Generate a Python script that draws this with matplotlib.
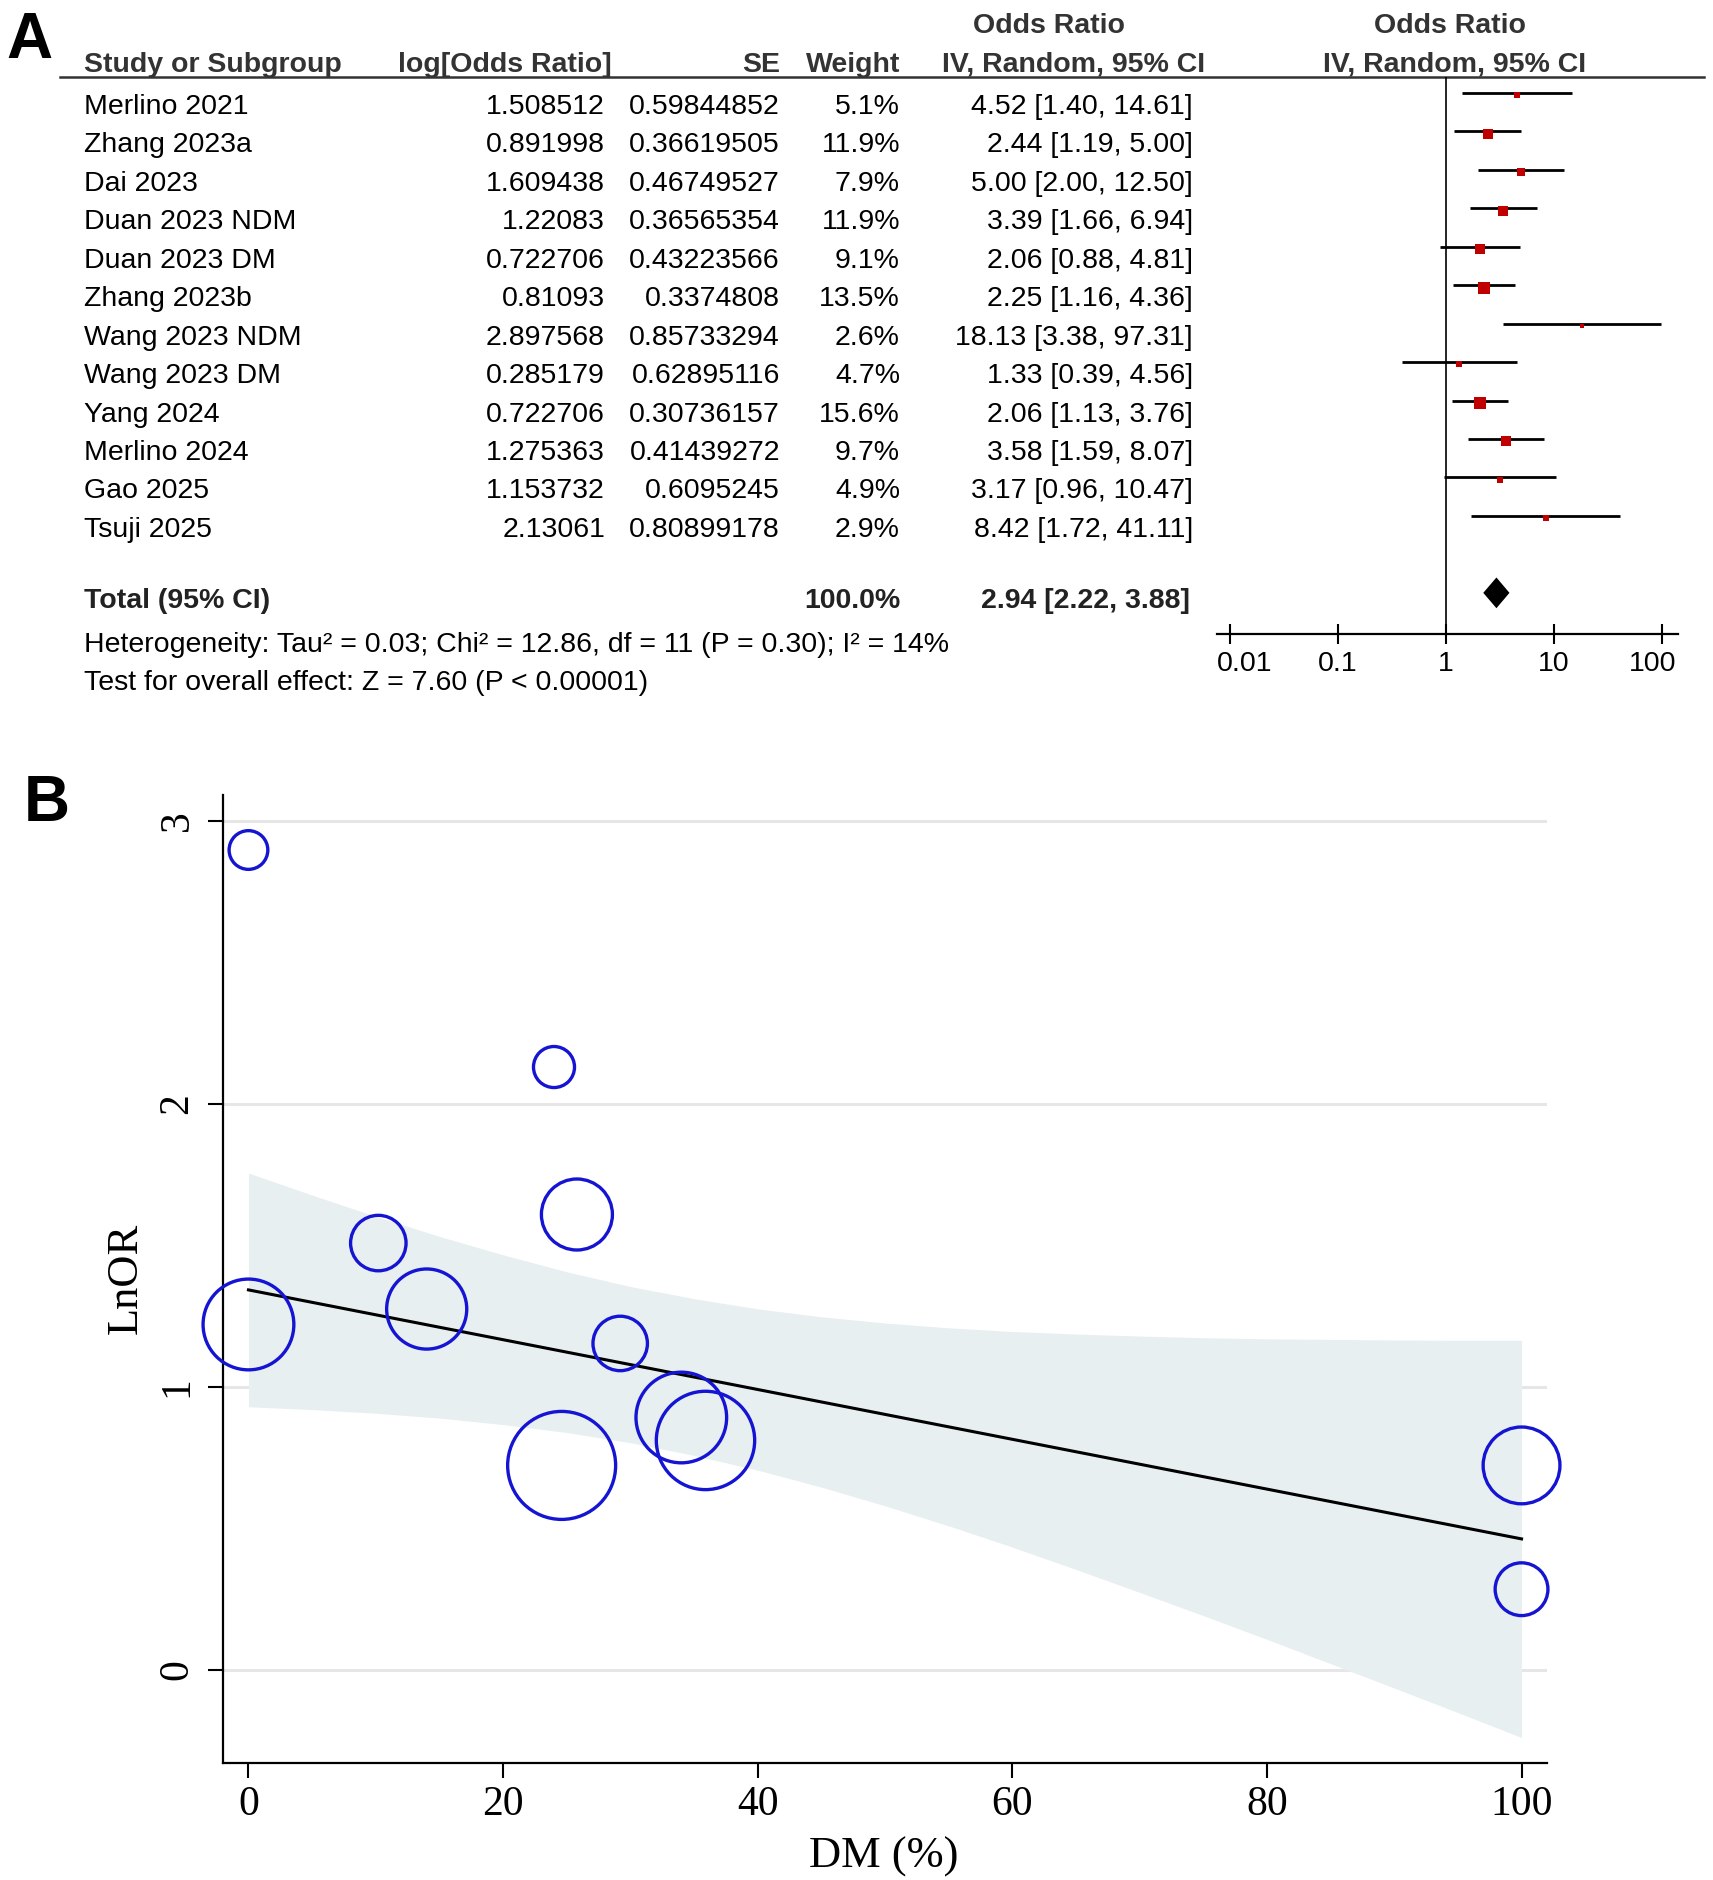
import numpy as np
import matplotlib.pyplot as plt
import matplotlib.transforms as mtrans

plt.rcParams['font.family'] = ['Liberation Sans', 'DejaVu Sans']

# -----
# Panel A data (forest plot table)
# -----
studies = ['Merlino 2021', 'Zhang 2023a', 'Dai 2023', 'Duan 2023 NDM', 'Duan 2023 DM',
           'Zhang 2023b', 'Wang 2023 NDM', 'Wang 2023 DM', 'Yang 2024', 'Merlino 2024',
           'Gao 2025', 'Tsuji 2025']
log_or = [1.508512, 0.891998, 1.609438, 1.22083, 0.722706, 0.81093, 2.897568, 0.285179,
          0.722706, 1.275363, 1.153732, 2.13061]
se = [0.59844852, 0.36619505, 0.46749527, 0.36565354, 0.43223566, 0.3374808, 0.85733294,
      0.62895116, 0.30736157, 0.41439272, 0.6095245, 0.80899178]
weight = [5.1, 11.9, 7.9, 11.9, 9.1, 13.5, 2.6, 4.7, 15.6, 9.7, 4.9, 2.9]
odds = [4.52, 2.44, 5.00, 3.39, 2.06, 2.25, 18.13, 1.33, 2.06, 3.58, 3.17, 8.42]
ci_lo = [1.40, 1.19, 2.00, 1.66, 0.88, 1.16, 3.38, 0.39, 1.13, 1.59, 0.96, 1.72]
ci_hi = [14.61, 5.00, 12.50, 6.94, 4.81, 4.36, 97.31, 4.56, 3.76, 8.07, 10.47, 41.11]
total_weight = 100.0
total_or = [2.94, 2.22, 3.88]
forest_ticks = [0.01, 0.1, 1, 10, 100]
forest_labels = ['0.01', '0.1', '1', '10', '100']
het_text = 'Heterogeneity: Tau² = 0.03; Chi² = 12.86, df = 11 (P = 0.30); I² = 14%'
test_text = 'Test for overall effect: Z = 7.60 (P < 0.00001)'

# -----
# Panel B data (meta-regression bubble plot)
# -----
dm_pct = [10.2, 34.0, 25.8, 0, 100, 35.9, 0, 100, 24.6, 14.0, 29.2, 24.0]
fit_x = [0, 100]
fit_y = [1.343, 0.463]
band_x = [0, 5, 10, 15, 20, 25, 30, 35, 40, 45, 50, 55, 60, 65, 70, 75, 80, 85, 90, 95, 100]
band_hi = [1.756, 1.678, 1.603, 1.532, 1.467, 1.407, 1.355, 1.312, 1.276, 1.248, 1.226,
           1.209, 1.196, 1.187, 1.180, 1.174, 1.170, 1.168, 1.166, 1.165, 1.165]
band_lo = [0.930, 0.920, 0.907, 0.890, 0.867, 0.839, 0.803, 0.758, 0.706, 0.646, 0.580,
           0.509, 0.434, 0.355, 0.274, 0.192, 0.108, 0.022, -0.064, -0.151, -0.239]

W, H = 1713, 1880
fs = 20.5
fig = plt.figure(figsize=(W / 100, H / 100), dpi=100)

# pixel axes for the table layout
pix = fig.add_axes([0, 0, 1, 1])
pix.set_xlim(0, W)
pix.set_ylim(H, 0)
pix.axis('off')

hdr = dict(fontsize=fs, fontweight='bold', color='#333333', va='baseline')
pix.text(1049, 33, 'Odds Ratio', ha='center', **hdr)
pix.text(1450, 33, 'Odds Ratio', ha='center', **hdr)
pix.text(84, 72, 'Study or Subgroup', ha='left', **hdr)
pix.text(612, 72, 'log[Odds Ratio]', ha='right', **hdr)
pix.text(780, 72, 'SE', ha='right', **hdr)
pix.text(900, 72, 'Weight', ha='right', **hdr)
pix.text(1205, 72, 'IV, Random, 95% CI', ha='right', **hdr)
pix.text(1455, 72, 'IV, Random, 95% CI', ha='center', **hdr)
pix.plot([60, 1704], [77, 77], color='#333333', lw=1.8)

row0, step = 114, 38.45
body = dict(fontsize=fs, color='black', va='baseline')
for i, name in enumerate(studies):
    yb = row0 + i * step
    pix.text(84, yb, name, ha='left', **body)
    pix.text(605, yb, str(log_or[i]), ha='right', **body)
    pix.text(780, yb, str(se[i]), ha='right', **body)
    pix.text(900, yb, f'{weight[i]:.1f}%', ha='right', **body)
    pix.text(1193, yb, f'{odds[i]:.2f} [{ci_lo[i]:.2f}, {ci_hi[i]:.2f}]', ha='right', **body)

bold = dict(fontsize=fs, fontweight='bold', color='#222222', va='baseline')
pix.text(84, 608, 'Total (95% CI)', ha='left', **bold)
pix.text(900, 608, f'{total_weight:.1f}%', ha='right', **bold)
pix.text(1190, 608, f'{total_or[0]:.2f} [{total_or[1]:.2f}, {total_or[2]:.2f}]', ha='right', **bold)
pix.text(84, 652, het_text, ha='left', **body)
pix.text(84, 690, test_text, ha='left', **body)

pix.text(6, 58, 'A', fontsize=46, fontweight='bold', va='baseline', ha='left')
pix.text(24, 821, 'B', fontsize=46, fontweight='bold', va='baseline', ha='left')

# -----
# Forest plot graphic
# -----
x0, x1, y0, y1 = 1217, 1678, 77, 634
axF = fig.add_axes([x0 / W, 1 - y1 / H, (x1 - x0) / W, (y1 - y0) / H])
axF.patch.set_alpha(0)
axF.set_xscale('log')
axF.set_xlim(10 ** -2.12, 10 ** 2.15)
top_row = (y0 - 93) / step
bot_row = (y1 - 93) / step
axF.set_ylim(bot_row, top_row)
rows = np.arange(len(studies))
axF.axvline(1, color='black', lw=1.2)
axF.hlines(rows, ci_lo, ci_hi, color='black', lw=2.0)
for r, o, w in zip(rows, odds, weight):
    axF.plot(o, r + 0.06, marker='s', color='#c00000', markersize=2.16 * np.sqrt(w),
             markeredgewidth=0, linestyle='none')
tr = 13
hh = 0.4
axF.fill([total_or[1], total_or[0], total_or[2], total_or[0]],
         [tr, tr - hh, tr, tr + hh], color='black', lw=0)
for s in ['top', 'right', 'left']:
    axF.spines[s].set_visible(False)
axF.spines['bottom'].set_linewidth(1.6)
axF.set_yticks([])
axF.set_xticks(forest_ticks)
axF.set_xticklabels(forest_labels)
axF.minorticks_off()
axF.tick_params(axis='x', direction='inout', length=15, width=1.5, labelsize=fs, pad=5)
# RevMan keeps the outer labels inside the axis line
tl = axF.get_xticklabels()
tl[0].set_ha('left')
tl[0].set_transform(tl[0].get_transform() + mtrans.ScaledTranslation(-0.13, 0, fig.dpi_scale_trans))
tl[-1].set_ha('right')
tl[-1].set_transform(tl[-1].get_transform() + mtrans.ScaledTranslation(0.15, 0, fig.dpi_scale_trans))

# -----
# Panel B: bubble plot
# -----
bx0, bx1, by0, by1 = 223, 1547, 795, 1763
axB = fig.add_axes([bx0 / W, 1 - by1 / H, (bx1 - bx0) / W, (by1 - by0) / H])
axB.fill_between(band_x, band_lo, band_hi, color='#e8eff1', lw=0, zorder=1)
axB.plot(fit_x, fit_y, color='black', lw=2.2, zorder=2)
axB.scatter(dm_pct, log_or, s=(23.9 / np.array(se)) ** 2, facecolors='none',
            edgecolors='#1414d2', linewidths=2.4, zorder=3, clip_on=False)
axB.set_xlim(-2, 102)
axB.set_ylim(-0.329, 3.092)
axB.set_axisbelow(True)
axB.yaxis.grid(True, color='#e6e6e6', lw=2.2)
for s in ['top', 'right']:
    axB.spines[s].set_visible(False)
for s in ['left', 'bottom']:
    axB.spines[s].set_linewidth(1.6)
axB.set_xticks([0, 20, 40, 60, 80, 100])
axB.set_yticks([0, 1, 2, 3])
serif = 'Liberation Serif'
axB.set_xticklabels(['0', '20', '40', '60', '80', '100'], fontfamily=serif, fontsize=30)
axB.set_yticklabels(['0', '1', '2', '3'], fontfamily=serif, fontsize=30,
                    rotation=90, va='center')
axB.tick_params(axis='x', length=11, width=1.5, pad=5)
axB.tick_params(axis='y', length=11, width=1.5, pad=8)
axB.set_xlabel('DM (%)', fontfamily=serif, fontsize=32)
axB.set_ylabel('LnOR', fontfamily=serif, fontsize=32)
axB.xaxis.set_label_coords((884 - bx0) / (bx1 - bx0), (by1 - 1857) / (by1 - by0))
axB.xaxis.label.set_va('center')
axB.yaxis.set_label_coords((126 - bx0) / (bx1 - bx0), (by1 - 1278) / (by1 - by0))
axB.yaxis.label.set_va('center')

fig.savefig('out.png', dpi=100)
